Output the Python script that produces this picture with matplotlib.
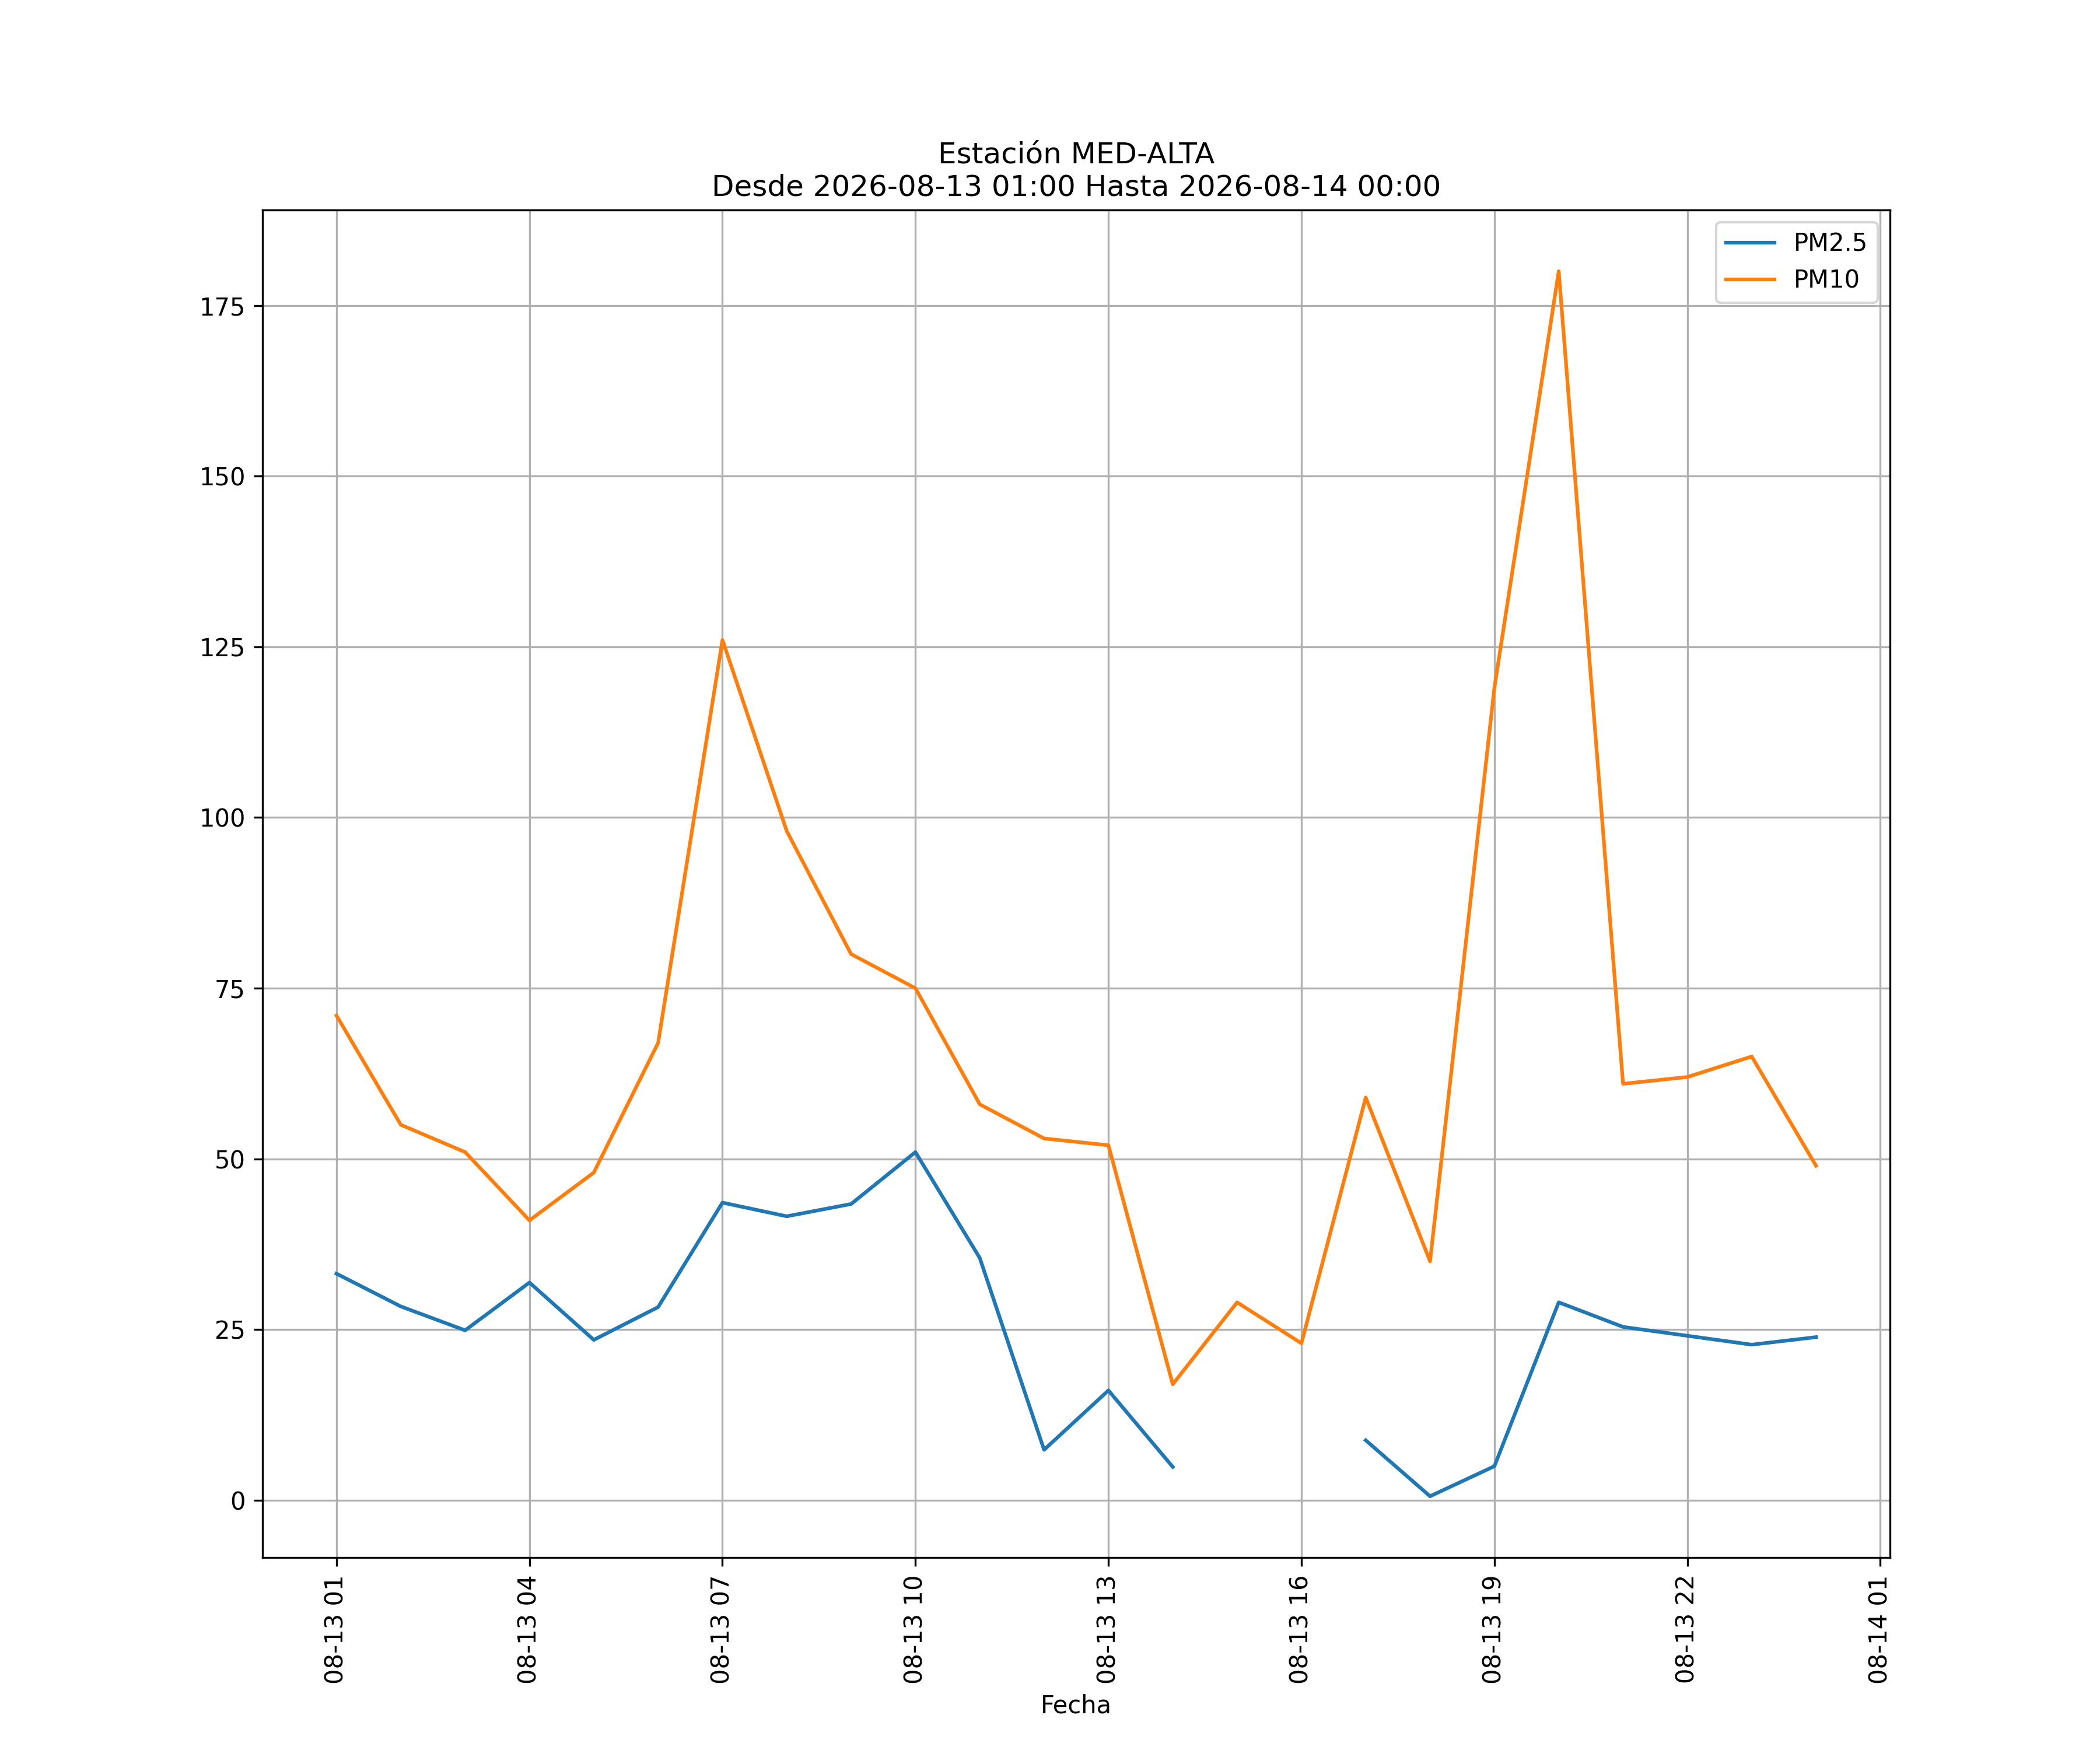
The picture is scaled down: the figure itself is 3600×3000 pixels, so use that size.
import numpy as np
import pandas as pd
import matplotlib
matplotlib.use("Agg")
import matplotlib.pyplot as plt
import matplotlib.dates as mdates

# hourly readings, 2026-08-13 01:00 .. 2026-08-14 00:00
fechas = pd.date_range("2026-08-13 01:00", "2026-08-14 00:00", freq="h")
pm25 = [33.2, 28.4, 24.9, 31.9, 23.5, 28.3, 43.6, 41.6, 43.4, 51.0, 35.5, 7.4,
        16.1, 4.9, np.nan, np.nan, 8.8, 0.6, 5.0, 29.0, 25.4, 24.1, 22.8, 23.9]
pm10 = [71, 55, 51, 41, 48, 67, 126, 98, 80, 75, 58, 53,
        52, 17, 29, 23, 59, 35, 119, 180, 61, 62, 65, 49]

fig, ax = plt.subplots(figsize=(12, 10))
ax.plot(fechas, pm25, label="PM2.5")
ax.plot(fechas, pm10, label="PM10")

ax.xaxis.set_major_locator(mdates.HourLocator(byhour=range(1, 24, 3)))
ax.xaxis.set_major_formatter(mdates.DateFormatter("%m-%d %H"))
plt.xticks(rotation=90)
ax.set_xlabel("Fecha")
ax.set_title("Estación MED-ALTA\nDesde 2026-08-13 01:00 Hasta 2026-08-14 00:00")
ax.grid(True)
ax.legend(loc="upper right")

fig.savefig("out.png", dpi=300)
